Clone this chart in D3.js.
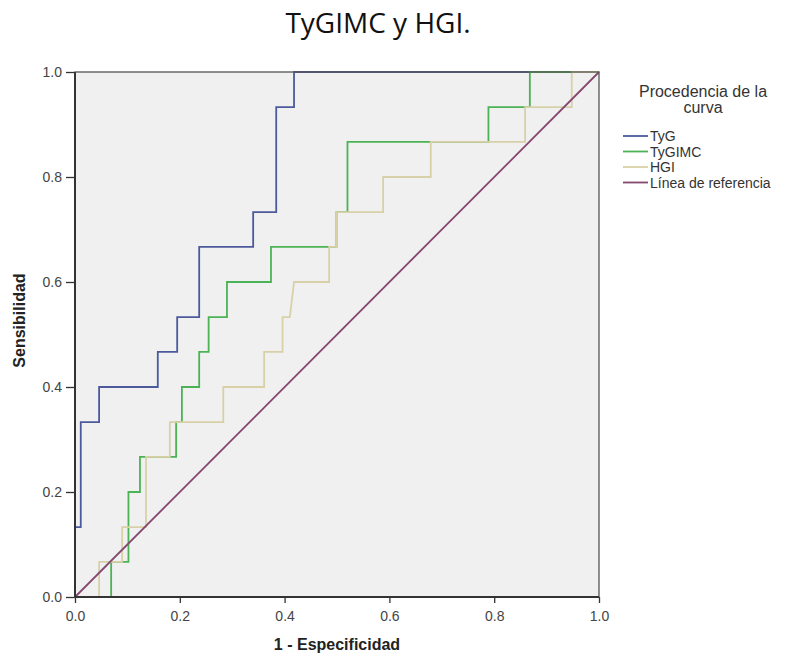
<!DOCTYPE html>
<html>
<head>
<meta charset="utf-8">
<script src="https://cdn.jsdelivr.net/npm/d3@7"></script>
<style>
  body { margin: 0; background: #fff; }
  svg { display: block; }
</style>
</head>
<body>
<div id="chart"></div>
<script>
// ROC step points (x = 1 - especificidad, y = sensibilidad)
const tygX = [0, 0, 0.011, 0.011, 0.046, 0.046, 0.158, 0.158, 0.195, 0.195, 0.237, 0.237, 0.340, 0.340, 0.384, 0.384, 0.418, 0.418, 1.0];
const tygY = [0, 0.133, 0.133, 0.333, 0.333, 0.4, 0.4, 0.467, 0.467, 0.533, 0.533, 0.667, 0.667, 0.733, 0.733, 0.933, 0.933, 1.0, 1.0];

const tygimcX = [0, 0.069, 0.069, 0.102, 0.102, 0.124, 0.124, 0.193, 0.193, 0.204, 0.204, 0.237, 0.237, 0.255, 0.255, 0.29, 0.29, 0.374, 0.374, 0.499, 0.499, 0.52, 0.52, 0.789, 0.789, 0.868, 0.868, 1.0];
const tygimcY = [0, 0, 0.067, 0.067, 0.2, 0.2, 0.267, 0.267, 0.333, 0.333, 0.4, 0.4, 0.467, 0.467, 0.533, 0.533, 0.6, 0.6, 0.667, 0.667, 0.733, 0.733, 0.867, 0.867, 0.933, 0.933, 1.0, 1.0];

const hgiX = [0, 0.046, 0.046, 0.09, 0.09, 0.1355, 0.1355, 0.181, 0.181, 0.283, 0.283, 0.361, 0.361, 0.396, 0.396, 0.41, 0.418, 0.485, 0.485, 0.499, 0.499, 0.588, 0.588, 0.679, 0.679, 0.859, 0.859, 0.948, 0.948, 1.0];
const hgiY = [0, 0, 0.067, 0.067, 0.133, 0.133, 0.267, 0.267, 0.333, 0.333, 0.4, 0.4, 0.467, 0.467, 0.533, 0.533, 0.6, 0.6, 0.667, 0.667, 0.733, 0.733, 0.8, 0.8, 0.867, 0.867, 0.933, 0.933, 1.0, 1.0];

const refX = [0, 1];
const refY = [0, 1];

const seriesNames = ["TyG", "TyGIMC", "HGI", "Línea de referencia"];
const seriesColors = ["#4c5a9c", "#4cb256", "#d8d1a8", "#84466f"];
const tickValues = [0, 0.2, 0.4, 0.6, 0.8, 1.0];

const series = [
  { x: tygX, y: tygY },
  { x: tygimcX, y: tygimcY },
  { x: hgiX, y: hgiY },
  { x: refX, y: refY }
].map((s, i) => ({
  name: seriesNames[i],
  color: seriesColors[i],
  points: s.x.map((v, j) => [v, s.y[j]])
}));

const W = 788, H = 662;
const margin = { top: 72, left: 75 },
      width = 524,
      height = 525;

const svg = d3.select("#chart")
  .append("svg")
    .attr("width", W)
    .attr("height", H);

// Title
svg.append("text")
  .attr("x", 378)
  .attr("y", 33)
  .attr("text-anchor", "middle")
  .style("font-family", "'Open Sans', sans-serif")
  .style("font-size", "28px")
  .style("fill", "#111")
  .text("TyGIMC y HGI.");

const g = svg.append("g")
  .attr("transform", `translate(${margin.left},${margin.top})`);

const x = d3.scaleLinear().domain([0, 1]).range([0, width]);
const y = d3.scaleLinear().domain([0, 1]).range([height, 0]);

// Plot background
g.append("rect")
  .attr("width", width)
  .attr("height", height)
  .attr("fill", "#f0f0f0");

// Axes
const xAxis = g.append("g")
  .attr("transform", `translate(0,${height})`)
  .call(d3.axisBottom(x).tickValues(tickValues).tickFormat(d3.format(".1f")).tickSize(6).tickSizeOuter(0));
const yAxis = g.append("g")
  .call(d3.axisLeft(y).tickValues(tickValues).tickFormat(d3.format(".1f")).tickSize(9).tickSizeOuter(0));

[xAxis, yAxis].forEach(a => {
  a.select(".domain").remove();
  a.selectAll(".tick line").attr("stroke", "#333").attr("stroke-width", 1.3);
  a.selectAll(".tick text")
    .style("font-family", "'Liberation Sans', Arial, sans-serif")
    .style("font-size", "14px")
    .attr("fill", "#444");
});
xAxis.selectAll(".tick text").attr("dy", "1.1em");
yAxis.selectAll(".tick text").attr("dx", "-1px");

// Lines
const line = d3.line()
  .x(d => x(d[0]))
  .y(d => y(d[1]));

g.selectAll(".roc")
  .data(series)
  .enter().append("path")
    .attr("class", "roc")
    .attr("fill", "none")
    .attr("stroke", d => d.color)
    .attr("stroke-width", 1.8)
    .attr("d", d => line(d.points));

// Frame
g.append("rect")
  .attr("width", width)
  .attr("height", height)
  .attr("fill", "none")
  .attr("stroke", "#555")
  .attr("stroke-width", 1.3);
g.append("line")
  .attr("x1", 0).attr("x2", 0).attr("y1", 0).attr("y2", height)
  .attr("stroke", "#333").attr("stroke-width", 2);
g.append("line")
  .attr("x1", 0).attr("x2", width).attr("y1", height).attr("y2", height)
  .attr("stroke", "#333").attr("stroke-width", 2);

// Axis labels
svg.append("text")
  .attr("x", margin.left + width / 2)
  .attr("y", 650)
  .attr("text-anchor", "middle")
  .style("font-family", "'Liberation Sans', Arial, sans-serif")
  .style("font-weight", "bold")
  .style("font-size", "16px")
  .style("fill", "#222")
  .text("1 - Especificidad");

svg.append("text")
  .attr("transform", `translate(25,${margin.top + height / 2 - 14}) rotate(-90)`)
  .attr("text-anchor", "middle")
  .style("font-family", "'Liberation Sans', Arial, sans-serif")
  .style("font-weight", "bold")
  .style("font-size", "16px")
  .style("fill", "#222")
  .text("Sensibilidad");

// Legend
const legend = svg.append("g")
  .attr("transform", "translate(623,0)");

legend.selectAll(".ltitle")
  .data(["Procedencia de la", "curva"])
  .enter().append("text")
    .attr("class", "ltitle")
    .attr("x", 80)
    .attr("y", (d, i) => 97 + i * 16)
    .attr("text-anchor", "middle")
    .style("font-family", "'Liberation Sans', Arial, sans-serif")
    .style("font-size", "16px")
    .style("fill", "#333")
    .text(d => d);

const items = legend.selectAll(".litem")
  .data(series)
  .enter().append("g")
    .attr("class", "litem")
    .attr("transform", (d, i) => `translate(0,${136 + i * 15.5})`);

items.append("line")
  .attr("x1", 0).attr("x2", 25)
  .attr("stroke", d => d.color)
  .attr("stroke-width", 1.8);

items.append("text")
  .attr("x", 27)
  .attr("y", 5)
  .style("font-family", "'Liberation Sans', Arial, sans-serif")
  .style("font-size", "14px")
  .style("fill", "#333")
  .text(d => d.name);
</script>
</body>
</html>
